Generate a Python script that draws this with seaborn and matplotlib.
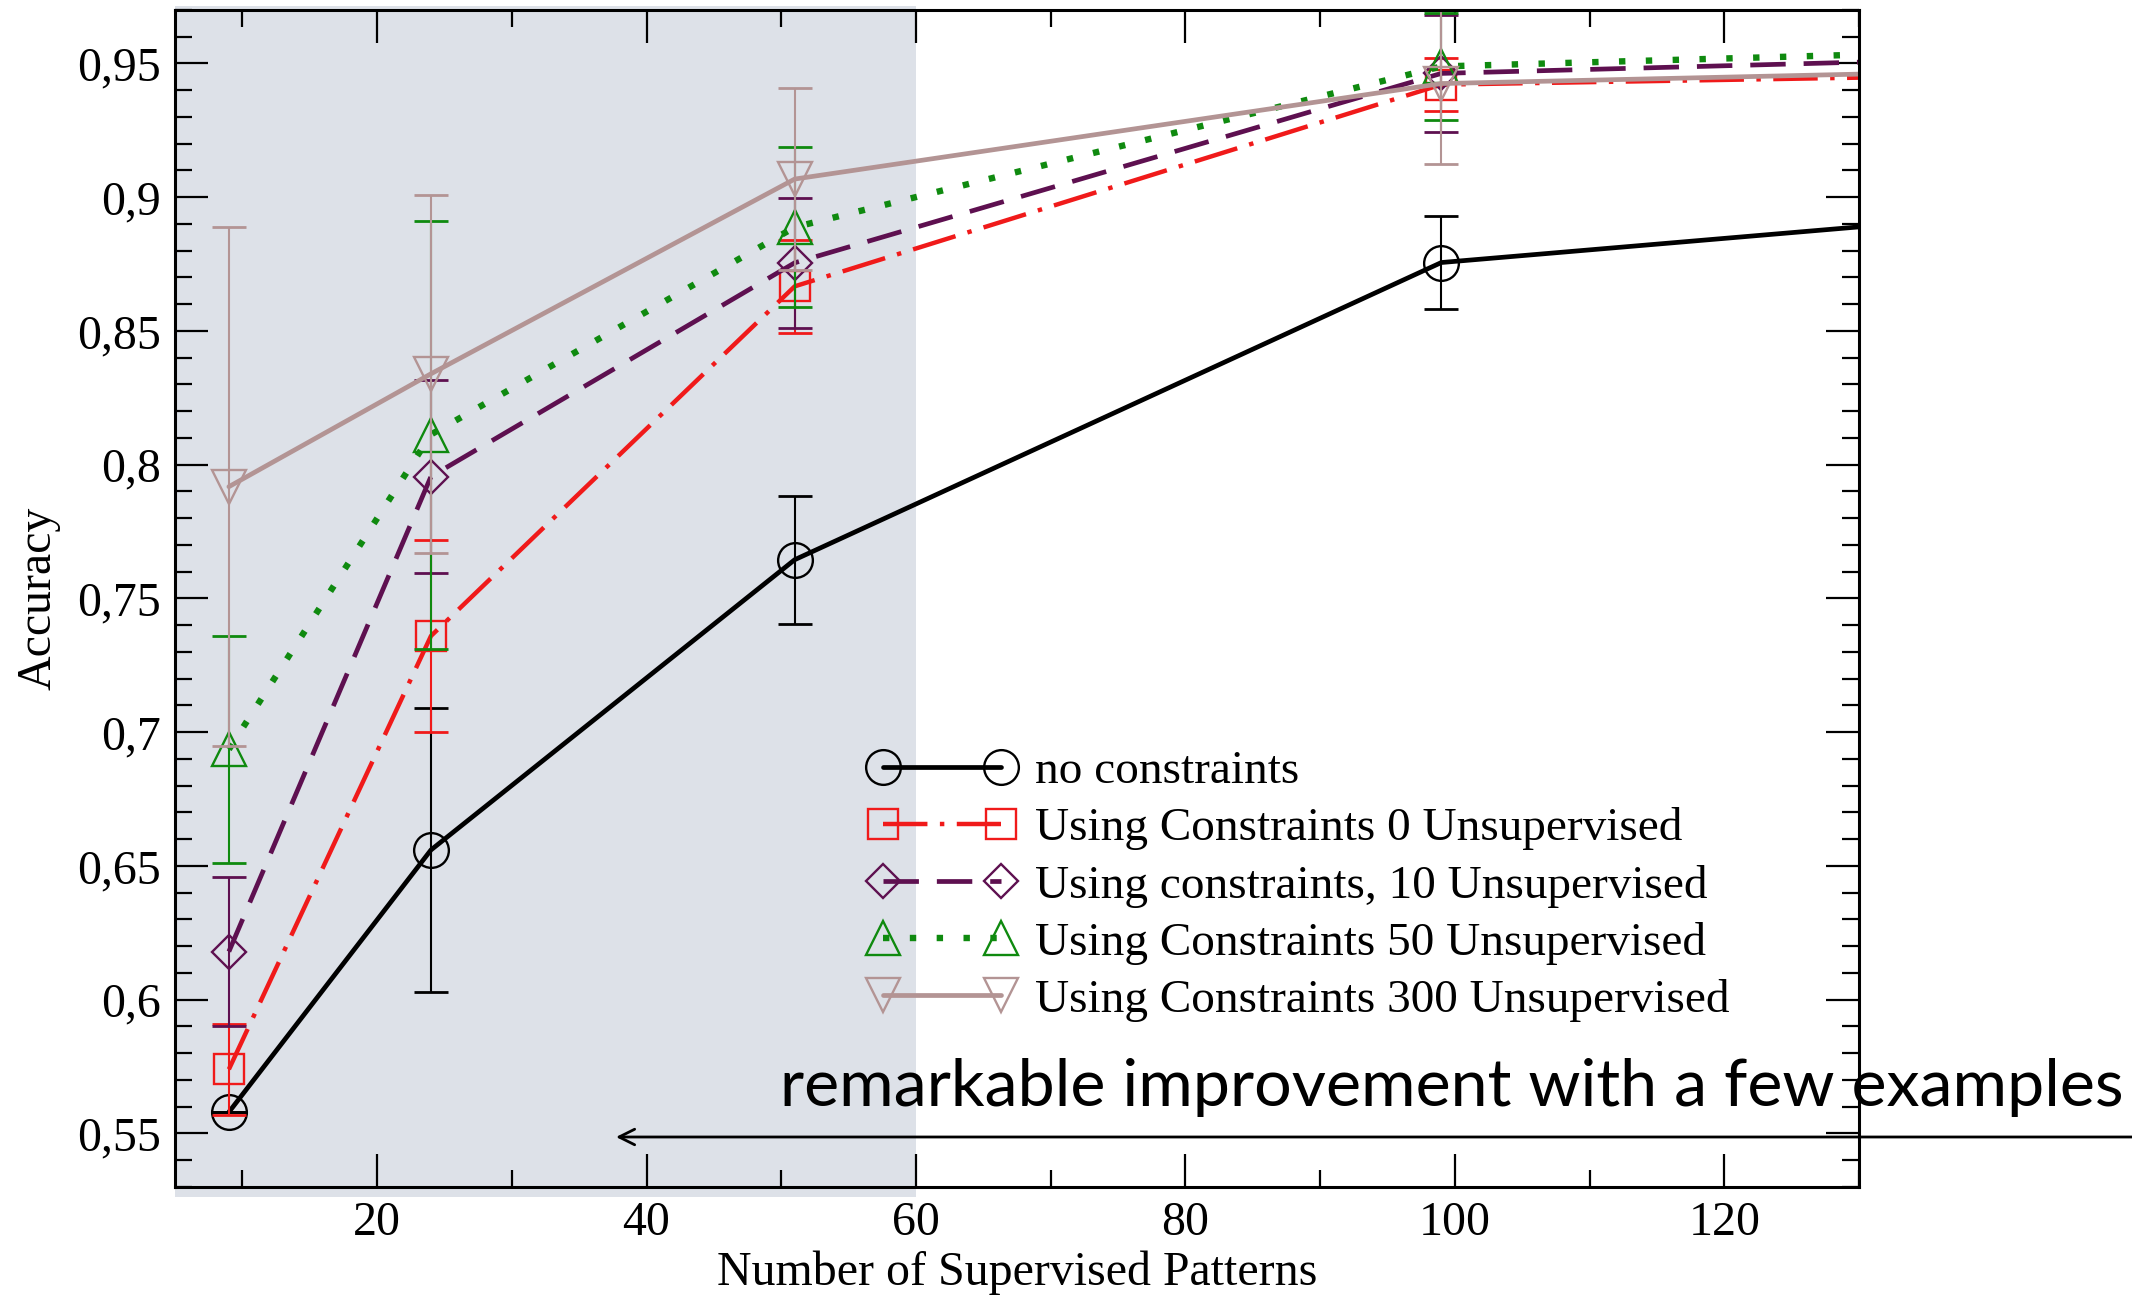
import matplotlib
matplotlib.use("Agg")
import matplotlib.pyplot as plt
import seaborn as sns
import numpy as np
import pandas as pd
from matplotlib.ticker import MultipleLocator, FuncFormatter

# ---------------- data ----------------
n_supervised = [9, 24, 51, 99, 200]

acc_none = [0.558, 0.656, 0.7645, 0.8756, 0.919]
err_none = [0.0, 0.053, 0.024, 0.0173, 0.015]

acc_c0 = [0.574, 0.736, 0.8667, 0.9421, 0.9506]
err_c0 = [0.017, 0.036, 0.0173, 0.010, 0.008]

acc_c10 = [0.618, 0.7956, 0.8755, 0.9463, 0.960]
err_c10 = [0.028, 0.036, 0.0244, 0.022, 0.010]

acc_c50 = [0.6936, 0.8113, 0.8888, 0.9489, 0.9632]
err_c50 = [0.0425, 0.080, 0.030, 0.020, 0.010]

acc_c300 = [0.7918, 0.834, 0.9068, 0.9425, 0.954]
err_c300 = [0.097, 0.067, 0.034, 0.030, 0.010]

series_labels = [
    "no constraints",
    "Using Constraints 0 Unsupervised",
    "Using constraints, 10 Unsupervised",
    "Using Constraints 50 Unsupervised",
    "Using Constraints 300 Unsupervised",
]
x_label = "Number of Supervised Patterns"
y_label = "Accuracy"
annotation = "remarkable improvement with a few examples"
shade_end = 60

# ---------------- style ----------------
sns.set_style("ticks")
plt.rcParams["font.family"] = ["Liberation Serif", "DejaVu Serif"]
for k in ["text.color", "axes.labelcolor", "xtick.color", "ytick.color", "axes.edgecolor"]:
    plt.rcParams[k] = "black"

W, H = 2132, 1296
fig = plt.figure(figsize=(W / 100, H / 100), dpi=100)
L, R, T, B = 175, 1859, 10, 1187
ax = fig.add_axes([L / W, 1 - B / H, (R - L) / W, (B - T) / H])
ax.set_facecolor("white")

styles = [
    dict(color="#000000", marker="o", ms=25, ls="-", lw=3.4),
    dict(color="#f01a1a", marker="s", ms=21, ls=(0, (10, 2.8, 1, 2.8)), lw=3.2),
    dict(color="#5e1050", marker="D", ms=17.5, ls=(0, (7.5, 3.8)), lw=3.4),
    dict(color="#0f8a0f", marker="^", ms=25, ls=(0, (1.0, 3.2)), lw=4.6),
    dict(color="#b39494", marker="v", ms=25, ls="-", lw=3.4),
]
accs = [acc_none, acc_c0, acc_c10, acc_c50, acc_c300]
errs = [err_none, err_c0, err_c10, err_c50, err_c300]

ax.axvspan(5, shade_end, ymin=-0.0085, ymax=1.003, color="#dde1e8", lw=0,
           zorder=0, clip_on=False)

for i, (lab, a, e, st) in enumerate(zip(series_labels, accs, errs, styles)):
    df = pd.DataFrame({"x": n_supervised, "y": a})
    ax.errorbar(df["x"], df["y"], yerr=e, fmt="none", ecolor=st["color"],
                elinewidth=1.5, capsize=12, capthick=2.0, zorder=2 + i)
    sns.lineplot(data=df, x="x", y="y", ax=ax, color=st["color"],
                 marker=st["marker"], markersize=st["ms"], markerfacecolor="none",
                 markeredgecolor=st["color"], markeredgewidth=1.7,
                 linestyle=st["ls"], linewidth=st["lw"], label=lab,
                 errorbar=None, zorder=2.5 + i)

ax.set_xlim(5, 130)
ax.set_ylim(0.53, 0.97)
ax.xaxis.set_major_locator(MultipleLocator(20))
ax.xaxis.set_minor_locator(MultipleLocator(10))
ax.yaxis.set_major_locator(MultipleLocator(0.05))
ax.yaxis.set_minor_locator(MultipleLocator(0.01))
ax.yaxis.set_major_formatter(FuncFormatter(lambda v, p: ("%g" % round(v, 2)).replace(".", ",")))

ax.tick_params(which="both", direction="in", top=True, right=True,
               labelsize=34.5, colors="black")
ax.tick_params(which="major", length=24, width=1.6, pad=10)
ax.tick_params(which="minor", length=12, width=1.6)
for s in ax.spines.values():
    s.set_linewidth(2.2)
    s.set_color("black")
    s.set_zorder(10)

ax.set_xlabel(x_label, fontsize=34.5, labelpad=4)
ax.set_ylabel(y_label, fontsize=34.5, labelpad=12)

leg = ax.legend(loc="upper left", bbox_to_anchor=(869 / W, 1 - 750 / H),
                bbox_transform=fig.transFigure, frameon=False, fontsize=34,
                numpoints=2, handlelength=3.1, handletextpad=0.42,
                labelspacing=0.3, borderpad=0, borderaxespad=0)
leg.set_zorder(20)

# annotation text fitted to its width in the reference
txt = fig.text(780 / W, 1 - 1106 / H, annotation, fontsize=46, color="black",
               family=["Lato", "DejaVu Sans"], va="baseline", ha="left", zorder=30)
fig.canvas.draw()
bb = txt.get_window_extent()
txt.set_fontsize(46 * 1343 / bb.width)

ax.annotate("", xy=(616 / W, 1 - 1137 / H), xytext=(1.0, 1 - 1137 / H),
            xycoords="figure fraction", textcoords="figure fraction",
            annotation_clip=False,
            arrowprops=dict(arrowstyle="->", lw=2.0, color="black",
                            mutation_scale=28, shrinkA=0, shrinkB=0))

fig.savefig("out.png", dpi=100)
